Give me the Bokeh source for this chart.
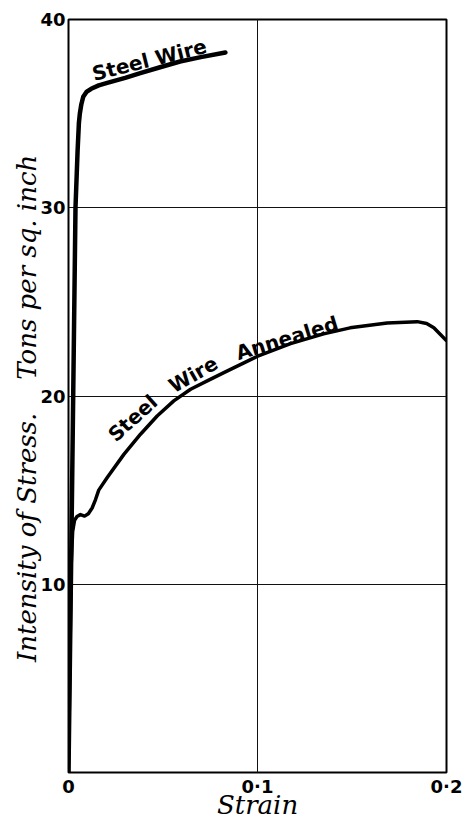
from bokeh.plotting import figure
from bokeh.models import Range1d, FixedTicker
from bokeh.core.properties import value
from bokeh.embed import file_html
from bokeh.resources import INLINE

# ---- data ----
steel_strain = [0.0, 0.0020, 0.0037, 0.0048, 0.0055, 0.0060, 0.0068, 0.0078, 0.0095,
                0.0120, 0.0160, 0.0205, 0.0300, 0.0380, 0.0480, 0.0590, 0.0700, 0.0830]
steel_stress = [0.0, 16.0, 30.0, 33.0, 34.5, 35.0, 35.5, 35.9, 36.15,
                36.32, 36.5, 36.63, 36.9, 37.15, 37.45, 37.77, 38.0, 38.25]

annealed_strain = [0.0, 0.0014, 0.0022, 0.0032, 0.0045, 0.0063, 0.0085, 0.0105, 0.0125,
                   0.0143, 0.0160, 0.0205, 0.0293, 0.0381, 0.0469, 0.0557, 0.0646,
                   0.0734, 0.0822, 0.0998, 0.1175, 0.1350, 0.1490, 0.1686, 0.1845,
                   0.1895, 0.1933, 0.1998]
annealed_stress = [0.0, 11.0, 12.8, 13.4, 13.6, 13.7, 13.62, 13.75, 14.05,
                   14.5, 15.0, 15.67, 16.9, 17.97, 18.94, 19.74, 20.36,
                   20.8, 21.24, 22.1, 22.78, 23.3, 23.62, 23.88, 23.95,
                   23.85, 23.63, 22.96]

x_ticks = [0, 0.1, 0.2]
x_tick_labels = ["0", "0·1", "0·2"]
y_ticks = [10, 20, 30, 40]
y_tick_labels = ["10", "20", "30", "40"]

x_title = "Strain"
y_title = "Intensity of Stress.\u00a0\u00a0\u00a0 Tons per sq. inch\u00a0\u00a0\u00a0"

curve_words = ["Steel Wire", "Steel", "Wire", "Annealed"]
word_x = [0.0127, 0.0226, 0.0540, 0.0889]
word_y = [37.1, 17.79, 20.45, 22.25]
word_angle = [14, 42, 30, 17]

p = figure(width=468, height=826,
           x_range=Range1d(0, 0.2), y_range=Range1d(0, 40),
           output_backend="svg", toolbar_location=None,
           min_border_left=68, min_border_right=22,
           min_border_top=19, min_border_bottom=54,
           background_fill_color="white", border_fill_color="white")

p.outline_line_color = "black"
p.outline_line_width = 2
p.outline_line_alpha = 1.0

# axes
p.xaxis.ticker = FixedTicker(ticks=x_ticks)
p.xaxis.major_label_overrides = dict(zip(x_ticks, x_tick_labels))
p.yaxis.ticker = FixedTicker(ticks=y_ticks)
p.yaxis.major_label_overrides = dict(zip(y_ticks, y_tick_labels))

for ax in (p.xaxis[0], p.yaxis[0]):
    ax.axis_line_color = None
    ax.major_tick_line_color = None
    ax.minor_tick_line_color = None
    ax.major_tick_out = 0
    ax.major_tick_in = 0
    ax.minor_tick_out = 0
    ax.minor_tick_in = 0
    ax.major_label_text_font = "DejaVu Sans"
    ax.major_label_text_font_style = "bold"
    ax.major_label_text_font_size = "18px"
    ax.major_label_text_color = "black"
    ax.axis_label_text_font = "DejaVu Serif"
    ax.axis_label_text_font_style = "italic"
    ax.axis_label_text_color = "black"
p.xaxis.major_label_standoff = 3
p.xaxis.axis_label = x_title
p.xaxis.axis_label_text_font_size = "26px"
p.xaxis.axis_label_standoff = -10
p.yaxis.major_label_standoff = 3
p.yaxis.major_label_orientation = "horizontal"
p.yaxis.axis_label = y_title
p.yaxis.axis_label_text_font_size = "26px"
p.yaxis.axis_label_standoff = -5

p.grid.grid_line_color = "#111111"
p.grid.grid_line_width = 1
p.grid.grid_line_alpha = 1.0

# curves
p.line(steel_strain, steel_stress, line_color="black", line_width=4.5,
       line_join="round", line_cap="round")
p.line(annealed_strain, annealed_stress, line_color="black", line_width=3.5,
       line_join="round", line_cap="round")

# curve labels
p.text(x=word_x, y=word_y, text=curve_words, angle=word_angle, angle_units="deg",
       text_font=value("DejaVu Sans"), text_font_style="bold",
       text_font_size="20px", text_baseline="alphabetic", text_align="left",
       text_color="black")

open("out.html", "w").write(file_html(p, INLINE))
